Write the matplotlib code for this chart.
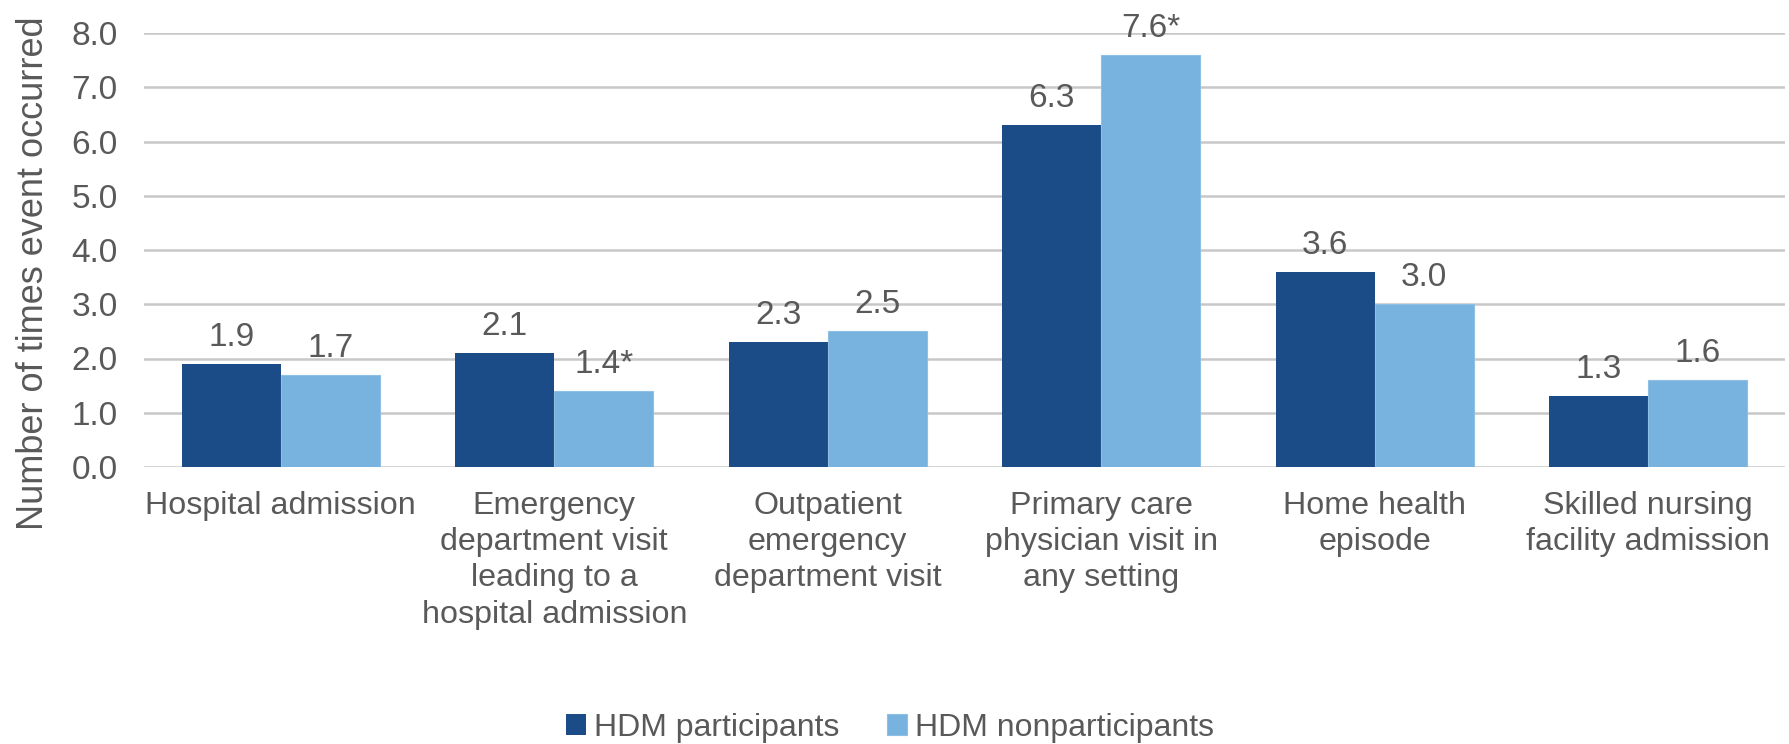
import matplotlib
matplotlib.use("Agg")
import matplotlib.pyplot as plt
import numpy as np

plt.rcParams['font.family'] = ['Liberation Sans', 'DejaVu Sans']

categories = ["Hospital admission",
              "Emergency\ndepartment visit\nleading to a\nhospital admission",
              "Outpatient\nemergency\ndepartment visit",
              "Primary care\nphysician visit in\nany setting",
              "Home health\nepisode",
              "Skilled nursing\nfacility admission"]
participants = [1.9, 2.1, 2.3, 6.3, 3.6, 1.3]
nonparticipants = [1.7, 1.4, 2.5, 7.6, 3.0, 1.6]
participant_labels = ["1.9", "2.1", "2.3", "6.3", "3.6", "1.3"]
nonparticipant_labels = ["1.7", "1.4*", "2.5", "7.6*", "3.0", "1.6"]
series_names = ["HDM participants", "HDM nonparticipants"]
yticks = [0, 1, 2, 3, 4, 5, 6, 7, 8]

dark = "#1B4C87"
light = "#78B2DE"
txt = "#595959"
fs = 24

fig = plt.figure(figsize=(17.89, 7.44), dpi=100)
ax = fig.add_axes([144/1789, 1-467/744, (1785-144)/1789, (467-33)/744])

x = np.arange(len(categories))
w = 0.362
b1 = ax.bar(x - w/2, participants, w, color=dark, label=series_names[0], zorder=3)
b2 = ax.bar(x + w/2, nonparticipants, w, color=light, label=series_names[1], zorder=3,
            edgecolor="#8FBFE3", linewidth=0.8)

for rect, lab in zip(b1, participant_labels):
    ax.annotate(lab, (rect.get_x() + rect.get_width()/2, rect.get_height()),
                xytext=(0, 8), textcoords="offset points", ha="center", va="bottom",
                fontsize=fs, color=txt)
for rect, lab in zip(b2, nonparticipant_labels):
    ax.annotate(lab, (rect.get_x() + rect.get_width()/2, rect.get_height()),
                xytext=(0, 8), textcoords="offset points", ha="center", va="bottom",
                fontsize=fs, color=txt)

ax.set_xlim(-0.5, len(categories) - 0.5)
ax.set_ylim(0, 8)
ax.set_yticks(yticks)
ax.set_yticklabels([f"{v:.1f}" for v in yticks])
ax.set_xticks(x)
ax.set_xticklabels(categories, fontsize=23.2, linespacing=1.28)
ax.tick_params(axis="y", length=0, pad=19, labelsize=fs, labelcolor=txt)
ax.tick_params(axis="x", length=0, pad=17, labelcolor=txt)
for s in ax.spines.values():
    s.set_visible(False)
ax.yaxis.grid(True, color="#C8C8C8", linewidth=1.8, zorder=0)
ax.set_axisbelow(True)

fig.text(34/1789, 1-273/744, "Number of times event occurred", rotation=90,
         ha="center", va="center", fontsize=26, color=txt)

leg = fig.legend(handles=[b1, b2], labels=series_names, loc="center",
                 bbox_to_anchor=(890/1789, 1-728/744), ncol=2, frameon=False,
                 fontsize=23, handlelength=0.62, handleheight=0.62,
                 handletextpad=0.25, columnspacing=1.5, labelcolor=txt)

fig.savefig("out.png", dpi=100)
